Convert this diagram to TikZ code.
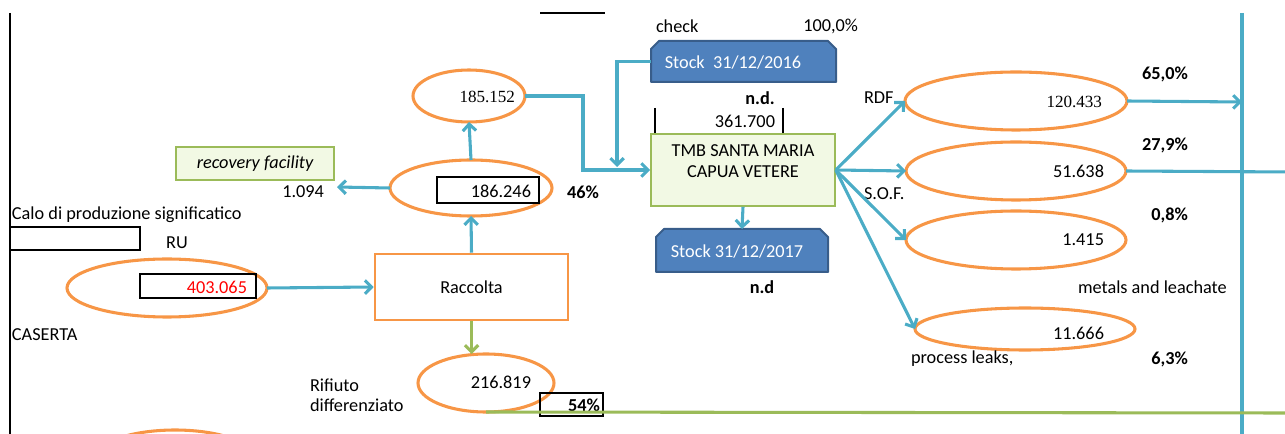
\documentclass[tikz,border=0pt]{standalone}
\usepackage{fontspec}
\setmainfont{Carlito}
\newfontfamily\tms{Liberation Serif}
\usetikzlibrary{arrows.meta,shapes.geometric}
\definecolor{org}{HTML}{F79646}
\definecolor{cyn}{HTML}{4BACC6}
\definecolor{stk}{HTML}{4F81BD}
\definecolor{stkb}{HTML}{385D8A}
\definecolor{grn}{HTML}{9BBB59}
\definecolor{lgrn}{HTML}{F2F9E4}
\begin{document}
\begin{tikzpicture}[x=0.75pt,y=-0.75pt,
  font=\fontsize{13.7}{16}\selectfont,
  ell/.style={ellipse, draw=org, line width=2.3pt, inner sep=0pt, outer sep=0pt},
  txt/.style={inner sep=0pt, outer sep=0pt},
  num/.style={txt, anchor=east},
  tnum/.style={txt, anchor=east, font=\tms\fontsize{12.8}{14}\selectfont},
  bld/.style={txt, font=\bfseries\fontsize{13.7}{16}\selectfont},
  thinbox/.style={draw=black, line width=0.8pt, inner sep=0pt},
  gbox/.style={draw=grn, fill=lgrn, line width=1.2pt, inner sep=0pt},
  stockarea/.style={inner sep=0pt, outer sep=0pt},
  stockfill/.style={draw=stkb, fill=stk, line width=1.5pt, line join=round},
  arr/.style={draw=cyn, line width=2.3pt, -{Straight Barb[length=5pt,width=10pt]}},
  cline/.style={draw=cyn, line width=2.3pt},
  garr/.style={draw=grn, line width=2.3pt, -{Straight Barb[length=5pt,width=10pt]}},
  gline/.style={draw=grn, line width=2.3pt}
]
\useasboundingbox (0,0) rectangle (1285,434);
\begin{scope}
\clip (0,0) rectangle (1285,434);

% frame lines
\draw[line width=1pt] (10,13) -- (10,434);
\draw[line width=1pt] (540,13) -- (605,13);
\draw[cline] (1242,13) -- (1242,434);

% left texts
\node[txt, anchor=west] (calo) at (12,215) {Calo di produzione significatico};
\node[thinbox, minimum width=97.5pt, minimum height=17.25pt] (empty) at (75,238.5) {};
\node[txt] (ru) at (177,243) {RU};
\node[txt, anchor=west] (caserta) at (12,335) {CASERTA};

% RU ellipse
\node[ell, minimum width=150pt, minimum height=43.5pt] (ellRU) at (167,288) {};
\node[thinbox, minimum width=87pt, minimum height=18pt] (boxRU) at (198,286) {};
\node[num, text=red] (nRU) at (247,287) {403.065};

% Raccolta
\node[draw=org, line width=1.9pt, minimum width=144.75pt, minimum height=49.5pt, inner sep=0pt] (racc) at (471.5,287) {Raccolta};

% ellipse B
\node[ell, minimum width=121.5pt, minimum height=42pt] (ellB) at (471,188) {};
\node[thinbox, minimum width=76.5pt, minimum height=19.5pt] (boxB) at (488,190) {};
\node[num] (nB) at (531,191) {186.246};
\node[bld] (p46) at (583,192) {46\%};

% recovery facility
\node[gbox, minimum width=118.5pt, minimum height=24.75pt, font=\itshape\fontsize{13.7}{16}\selectfont] (rec) at (255,163.5) {recovery facility};
\node[num] (t1094) at (324,192) {1.094};
\coordinate (a1094) at (337,187);

% ellipse A
\node[ell, minimum width=84pt, minimum height=39pt] (ellA) at (469,96) {};
\node[tnum] (nA) at (515,97) {185.152};

% ellipse D
\node[ell, minimum width=102pt, minimum height=43.5pt] (ellD) at (486,383) {};
\node[num] (nD) at (531,382) {216.819};
\node[txt, anchor=west, align=left, font=\fontsize{13.7}{15}\selectfont] (rif) at (310,395) {Rifiuto\\differenziato};
\node[thinbox, minimum width=47.25pt, minimum height=17.25pt] (box54) at (571.5,404.5) {};
\node[bld, anchor=east] (p54) at (600,405) {54\%};

% bottom partial ellipse
\node[ell, minimum width=127.5pt, minimum height=48pt] (ellBot) at (175,462) {};

% top labels
\node[txt, anchor=west] (check) at (656,26) {check};
\node[txt, anchor=east] (p100) at (858,26) {100,0\%};

% stock 2016
\node[stockarea, minimum width=138.75pt, minimum height=30.75pt] (stk16) at (743.5,61.5) {};
\fill[stockfill] (stk16.south west) -- ([yshift=-6pt]stk16.north west) -- ([xshift=6pt]stk16.north west)
   -- ([xshift=-6pt]stk16.north east) -- ([yshift=-6pt]stk16.north east) -- (stk16.south east) -- cycle;
\node[txt, text=white] (stk16t) at (733,63) {Stock\ \ 31/12/2016};
\node[bld] (nd1) at (760,98) {n.d.};
\draw[line width=0.8pt] (655,108) -- (655,134);
\draw[line width=0.8pt] (783,108) -- (783,134);
\node[num] (n361) at (775,121) {361.700};

% TMB
\node[gbox, minimum width=138pt, minimum height=54pt] (tmb) at (743,170) {};
\node[txt, align=center, font=\fontsize{13.7}{15.75}\selectfont] (tmbt) at (743,161) {TMB SANTA MARIA\\CAPUA VETERE};

% stock 2017
\node[stockarea, minimum width=129pt, minimum height=32.25pt] (stk17) at (742,250.5) {};
\fill[stockfill] (stk17.south west) -- ([yshift=-6pt]stk17.north west) -- ([xshift=6pt]stk17.north west)
   -- ([xshift=-6pt]stk17.north east) -- ([yshift=-6pt]stk17.north east) -- (stk17.south east) -- cycle;
\node[txt, text=white] (stk17t) at (737,252) {Stock 31/12/2017};
\node[bld] (nd2) at (762,287) {n.d};

% right ellipses
\node[ell, minimum width=166.5pt, minimum height=43.5pt] (ellRDF) at (1016,101) {};
\node[tnum] (nRDF) at (1102,102) {120.433};
\node[ell, minimum width=165pt, minimum height=43.5pt] (ellSOF) at (1016,171) {};
\node[num] (nSOF) at (1104,171) {51.638};
\node[ell, minimum width=165pt, minimum height=43.5pt] (ellMet) at (1016,240) {};
\node[num] (nMet) at (1104,240) {1.415};
\node[ell, minimum width=165pt, minimum height=31.5pt] (ellLeak) at (1025,329) {};
\node[num] (nLeak) at (1104,333) {11.666};

\node[txt, anchor=west] (rdf) at (864,98) {RDF};
\node[txt, anchor=west] (sof) at (864,194) {S.O.F.};
\node[bld, anchor=east] (p65) at (1188,74) {65,0\%};
\node[bld, anchor=east] (p279) at (1188,145) {27,9\%};
\node[bld, anchor=east] (p08) at (1188,215) {0,8\%};
\node[bld, anchor=east] (p63) at (1188,359) {6,3\%};
\node[txt, anchor=west] (metals) at (1078,287) {metals and leachate};
\node[txt, anchor=west] (leaks) at (911,359) {process leaks,};

% coordinates
\coordinate (j1) at (583,96);
\coordinate (j2) at (617,167);
\coordinate (vRDF) at (1242,102);
\coordinate (eSOF) at (1290,172);
\coordinate (eG) at (1290,413);

% connectors
\draw[arr] (ellRU.east) -- (racc.west);
\draw[arr] (racc.north) -- (ellB.south);
\draw[arr] (ellB.north) -- (ellA.south);
\draw[arr] (ellB.west) -- (a1094);
\draw[garr] (racc.south) -- (ellD.north -| racc.south);
\draw[arr] (ellA.east) -- (j1) |- (tmb.west);
\draw[arr] (stk16.west) -| (j2);
\draw[arr] (tmb.south) -- (stk17.north);
\draw[arr] (tmb.east) -- (ellRDF.west);
\draw[arr] (tmb.east) -- (ellSOF.west);
\draw[arr] (tmb.east) -- (ellMet.west);
\draw[arr] (tmb.east) -- (ellLeak.west);
\draw[arr] (ellRDF.east) -- (vRDF);
\draw[cline] (ellSOF.east) -- (eSOF);
\draw[gline] (ellD.south) -- (eG);
\end{scope}
\end{tikzpicture}
\end{document}
